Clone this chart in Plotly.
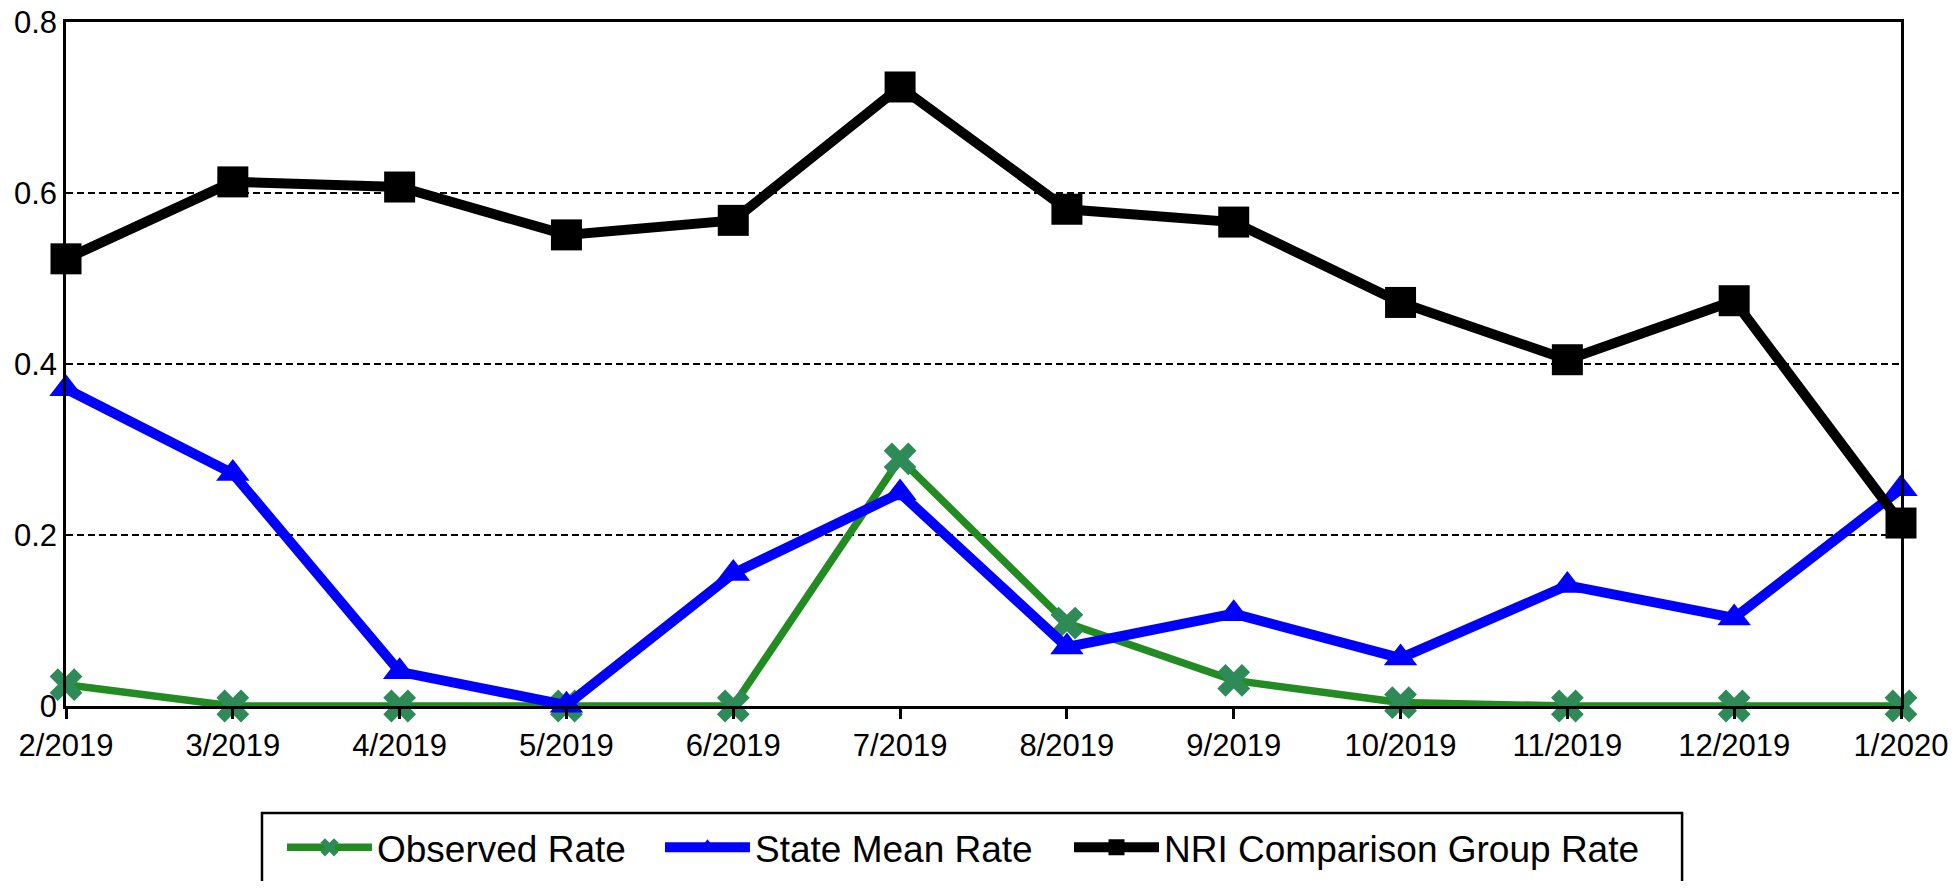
import plotly.graph_objects as go

# monthly rates
months = ["2/2019", "3/2019", "4/2019", "5/2019", "6/2019", "7/2019",
          "8/2019", "9/2019", "10/2019", "11/2019", "12/2019", "1/2020"]
observed_rate = [0.025, 0.0, 0.0, 0.0, 0.0, 0.289, 0.097, 0.030, 0.004, 0.0, 0.0, 0.0]
state_mean_rate = [0.371, 0.272, 0.040, 0.001, 0.155, 0.249, 0.069, 0.108, 0.056, 0.141, 0.103, 0.254]
nri_group_rate = [0.523, 0.613, 0.607, 0.551, 0.568, 0.724, 0.581, 0.566, 0.472, 0.405, 0.474, 0.214]
y_ticks = [0, 0.2, 0.4, 0.6, 0.8]

FONT = "Arial, Liberation Sans, sans-serif"

fig = go.Figure()
fig.add_trace(go.Scatter(
    x=months, y=observed_rate, name="Observed Rate", mode="lines+markers",
    line=dict(color="#228B22", width=7.5),
    marker=dict(symbol="x", size=29, color="#2E8B57"),
    cliponaxis=False, legend="legend",
))
fig.add_trace(go.Scatter(
    x=months, y=state_mean_rate, name="State Mean Rate", mode="lines+markers",
    line=dict(color="#0000FF", width=10),
    marker=dict(symbol="triangle-up", size=29, color="#0000FF"),
    cliponaxis=False, legend="legend2",
))
fig.add_trace(go.Scatter(
    x=months, y=nri_group_rate, name="NRI Comparison Group Rate", mode="lines+markers",
    line=dict(color="#000000", width=10),
    marker=dict(symbol="square", size=31, color="#000000"),
    cliponaxis=False, legend="legend3",
))

# legend frame (runs off the bottom of the page like the original)
fig.add_shape(type="rect", xref="paper", yref="paper",
              x0=0.1068, x1=0.8807, y0=-0.30, y1=-0.1564,
              line=dict(color="black", width=2.5), fillcolor="rgba(0,0,0,0)")


def legend_box(x):
    # one legend per series so each entry sits where the original has it
    return dict(
        orientation="h", x=x, xanchor="left", y=-0.2073, yanchor="middle",
        font=dict(family=FONT, size=37, color="black"),
        itemwidth=85, bgcolor="rgba(0,0,0,0)", borderwidth=0,
    )


# page body keeps its default 8px margin, so the figure is 16px smaller than the window
fig.update_layout(
    width=1943, height=873,
    margin=dict(l=58, r=50, t=14, b=175, autoexpand=False),
    paper_bgcolor="white", plot_bgcolor="white",
    font=dict(family=FONT, color="black"),
    showlegend=True,
    legend=legend_box(0.1177),
    legend2=legend_box(0.3237),
    legend3=legend_box(0.5466),
    xaxis=dict(
        type="category", range=[0, 11], automargin=False,
        showline=True, linecolor="black", linewidth=2.5, mirror=True,
        ticks="outside", ticklen=10, tickwidth=2.5, tickcolor="black",
        showgrid=False, tickfont=dict(size=31, color="black"),
        ticklabeloverflow="allow",
    ),
    yaxis=dict(
        range=[0, 0.8], tickvals=y_ticks, ticktext=["0", "0.2", "0.4", "0.6", "0.8"],
        automargin=False,
        showline=True, linecolor="black", linewidth=2.5, mirror=True,
        ticks="", showgrid=True, gridcolor="black", gridwidth=2, griddash="7px,4px",
        zeroline=False, tickfont=dict(size=31, color="black"),
        ticklabeloverflow="allow",
    ),
)

fig.write_html("out.html")
